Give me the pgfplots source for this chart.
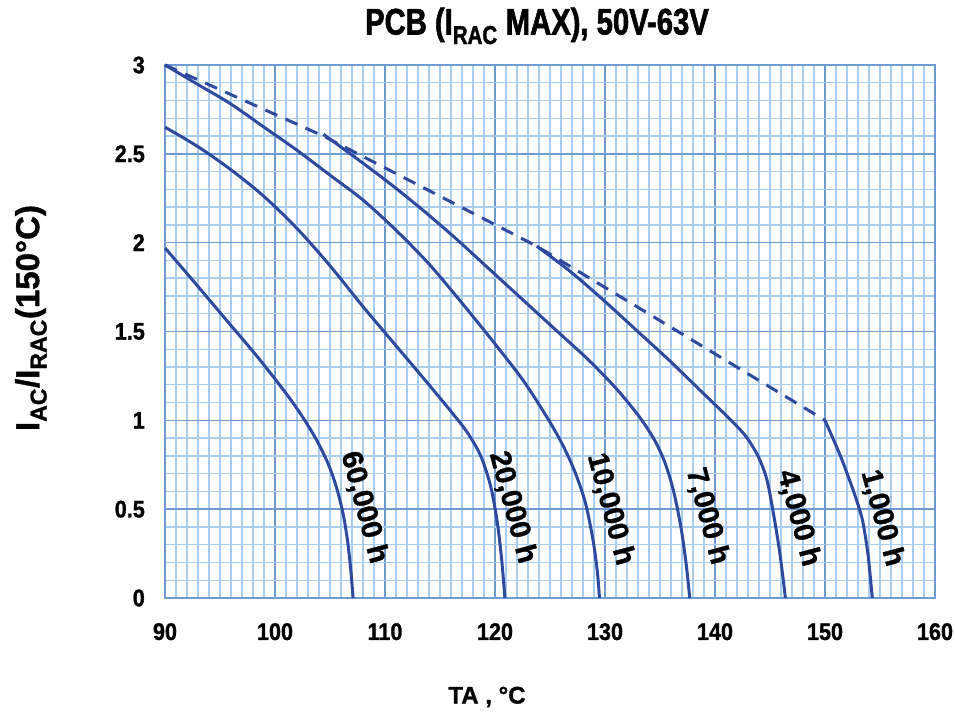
\documentclass[border=0pt]{standalone}
\usepackage{fontspec}
\setmainfont{Liberation Sans}[BoldFeatures={FakeBold=1.2}]
\newfontfamily\titlefont{Liberation Sans}[FakeStretch=0.79, BoldFeatures={FakeBold=1.5}]
\newfontfamily\tickfont{Liberation Sans}[FakeStretch=0.9, BoldFeatures={FakeBold=1.2}]
\usepackage{pgfplots}
\pgfplotsset{compat=1.18}
\definecolor{curve}{HTML}{2E4A9E}
\definecolor{majgrid}{HTML}{6E9BD2}
\definecolor{mingrid}{HTML}{A8CDEE}
\begin{document}
\begin{tikzpicture}[x=1pt,y=1pt]
\useasboundingbox (0,0) rectangle (955,719);
\begin{axis}[
  at={(165pt,121pt)}, anchor=south west,
  scale only axis, width=770pt, height=533pt,
  xmin=90, xmax=160, ymin=0, ymax=3,
  xtick={90,100,...,160}, ytick={0,0.5,1,1.5,2,2.5,3},
  yticklabels={0,0.5,1,1.5,2,2.5,3},
  minor x tick num=9, minor y tick num=4,
  grid=both,
  major grid style={draw=majgrid, line width=1.6pt},
  minor grid style={draw=mingrid, line width=1.4pt},
  axis line style={draw=majgrid, line width=1.8pt},
  major tick length=0pt, minor tick length=0pt,
  /pgf/number format/assume math mode=true,
  ticklabel style={font=\tickfont\bfseries\fontsize{24}{24}\selectfont, inner sep=0pt},
  xticklabel style={anchor=north, yshift=-25pt},
  yticklabel style={anchor=east, xshift=-20pt},
  clip=false,
  every axis plot/.append style={curve, line width=3pt},
]
\addplot[dash pattern=on 13pt off 9pt] coordinates {
 (90,3) (104.4,2.6) (123.8,1.98) (150,1.0)};
% 60,000 h
\addplot[smooth, tension=0.5] coordinates {
 (90,1.97) (92.5,1.79) (95.5,1.57) (98.5,1.35) (101.5,1.11) (103.5,0.92)
 (104.8,0.76) (105.6,0.62) (106.2,0.47) (106.6,0.32) (106.9,0.15) (107.1,0)};
% 20,000 h
\addplot[smooth, tension=0.5] coordinates {
 (90,2.65) (93,2.54) (96,2.41) (99,2.26) (102,2.08) (105,1.87) (108,1.64)
 (111,1.42) (114,1.20) (116,1.05) (117.5,0.93) (118.7,0.80) (119.6,0.63)
 (120.2,0.43) (120.6,0.22) (120.9,0)};
% 10,000 h
\addplot[smooth, tension=0.5] coordinates {
 (90,3.0) (93,2.89) (96,2.78) (99,2.65) (102,2.52) (105,2.38) (108,2.24)
 (111,2.07) (114,1.88) (117,1.66) (120,1.43) (122.5,1.23) (124.5,1.04)
 (126,0.88) (127.2,0.72) (128.2,0.54) (128.9,0.33) (129.3,0.15) (129.5,0)};
% 7,000 h
\addplot[smooth, tension=0.5] coordinates {
 (104.4,2.61) (107.5,2.47) (110.5,2.33) (113.5,2.18) (116.5,2.02)
 (119.5,1.85) (122.5,1.68) (125.5,1.51) (128.5,1.34) (131,1.18) (133,1.03)
 (134.4,0.90) (135.4,0.77) (136.2,0.61) (136.9,0.40) (137.4,0.18) (137.7,0)};
% 4,000 h
\addplot[smooth, tension=0.5] coordinates {
 (123.8,1.98) (126.8,1.84) (129.8,1.68) (132.8,1.51) (135.8,1.34)
 (138.8,1.16) (141.3,1.01) (142.8,0.91) (143.9,0.80) (144.7,0.67)
 (145.3,0.48) (145.9,0.25) (146.4,0)};
% 1,000 h
\addplot[smooth, tension=0.4] coordinates {
 (150,1.0) (151.4,0.8) (152.6,0.60) (153.4,0.44) (153.9,0.25) (154.3,0)};
\begin{scope}[every node/.style={rotate=-75, font=\bfseries\fontsize{29}{29}\selectfont, inner sep=0pt}]
\node at (axis cs:108.1,0.51) {60,000 h};
\node at (axis cs:121.6,0.51) {20,000 h};
\node at (axis cs:130.5,0.50) {10,000 h};
\node at (axis cs:139.3,0.46) {7,000 h};
\node at (axis cs:147.6,0.45) {4,000 h};
\node at (axis cs:155.2,0.45) {1,000 h};
\end{scope}
\end{axis}
\node[font=\titlefont\bfseries\fontsize{37}{40}\selectfont, inner sep=0pt] at (537,693) {PCB (I\textsubscript{RAC} MAX), 50V-63V};
\node[rotate=90, font=\bfseries\fontsize{33}{36}\selectfont, inner sep=0pt] at (31,401) {I\textsubscript{AC}/I\textsubscript{RAC}(150°C)};
\node[font=\bfseries\fontsize{24}{26}\selectfont, inner sep=0pt] at (487,22) {TA , °C};
\end{tikzpicture}
\end{document}
